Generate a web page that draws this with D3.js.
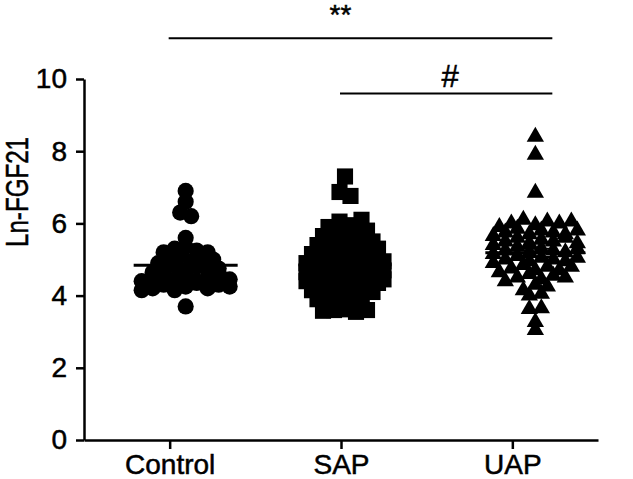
<!doctype html>
<html lang="en">
<head>
<meta charset="utf-8">
<title>Ln-FGF21 by group</title>
<script src="https://d3js.org/d3.v7.min.js"></script>
<style>
  body { margin: 0; background: #fff; }
  text { font-family: "Liberation Sans", Arial, Helvetica, sans-serif; fill: #000; stroke: #000; stroke-width: 0.5px; }
</style>
</head>
<body>
<svg id="chart" width="633" height="479"></svg>
<script>
// values
const groups = ["Control", "SAP", "UAP"];
const yTicks = [0, 2, 4, 6, 8, 10];

const controlValues = [6.9, 6.6, 6.3, 6.2, 5.6, 3.7,
  4.15, 4.2, 4.3, 4.15, 4.25, 4.35, 4.2, 4.3, 4.25,
  4.4, 4.5, 4.6, 4.45, 4.55, 4.4, 4.5, 4.6, 4.45,
  4.65, 4.75, 4.85, 4.7, 4.8, 4.7, 4.75,
  4.9, 5.0, 5.1, 4.95, 5.05, 5.0,
  5.2, 5.3, 5.35, 5.25, 5.2];

const sapValues = [7.3, 6.87, 6.76,
  3.58, 3.6, 3.62, 3.55, 3.6,
  3.7, 3.8, 3.75, 3.85,
  3.9, 4.05, 3.95, 4.1, 4.0, 4.1,
  4.15, 4.25, 4.35, 4.2, 4.3, 4.25, 4.35,
  4.4, 4.5, 4.6, 4.45, 4.55, 4.5, 4.6, 4.45,
  4.65, 4.75, 4.85, 4.7, 4.8, 4.75, 4.85, 4.7,
  4.9, 5.0, 5.1, 4.95, 5.05, 5.0, 5.1, 4.95,
  5.15, 5.25, 5.35, 5.2, 5.3, 5.2, 5.3,
  5.4, 5.5, 5.6, 5.45, 5.55, 5.5,
  5.65, 5.75, 5.85, 5.7, 5.8,
  5.9, 6.05, 5.95, 6.1];

const uapValues = [8.4, 7.9, 6.85,
  5.9, 6.0, 6.1, 5.95, 6.05, 6.0, 6.05,
  5.65, 5.75, 5.85, 5.7, 5.8, 5.75, 5.7, 5.8,
  5.4, 5.5, 5.6, 5.45, 5.55, 5.5, 5.6, 5.45,
  5.15, 5.25, 5.35, 5.2, 5.3, 5.25, 5.2, 5.3,
  4.9, 5.0, 5.1, 4.95, 5.05, 5.0, 4.95, 5.05,
  4.65, 4.75, 4.85, 4.7, 4.8, 4.7, 4.8,
  4.4, 4.5, 4.6, 4.45, 4.55, 4.5,
  4.15, 4.3, 4.25,
  4.0, 4.05,
  3.63, 3.65,
  3.27, 3.05];

const groupValues = [controlValues, sapValues, uapValues];

// significance bars, level in y units
const comparisons = [
  { from: "Control", to: "UAP", label: "**", level: 11.13 },
  { from: "SAP", to: "UAP", label: "#", level: 9.6 }
];

const svg = d3.select("#chart");

const x = d3.scalePoint().domain(groups).range([84, 598]).padding(0.5);
const y = d3.scaleLinear().domain([0, 10]).range([440, 79]);

// clusters sit a little right of the tick in the original
const clusterShift = [16, 4, 23];
const spacing = [11, 11, 12];
const rowHeight = 0.25;
const symbols = [d3.symbolCircle, d3.symbolSquare, d3.symbolTriangle];
const symbolSize = [205, 260, 130];

// column scatter: values in the same band sit side by side
function columnScatter(values, cx, s) {
  const rows = d3.group(values, v => Math.round(v / rowHeight));
  const pts = [];
  let widest = 1;
  rows.forEach(row => {
    const n = row.length;
    widest = Math.max(widest, n);
    row.forEach((v, j) => {
      pts.push({ v: v, x: cx + (j - (n - 1) / 2) * s, y: y(v) });
    });
  });
  return { pts: pts, half: (widest - 1) / 2 * s };
}

groups.forEach((g, i) => {
  const cx = x(g) + clusterShift[i];
  const layout = columnScatter(groupValues[i], cx, spacing[i]);

  svg.append("g")
    .selectAll("path")
    .data(layout.pts)
    .enter().append("path")
    .attr("transform", d => `translate(${d.x},${d.y})`)
    .attr("d", d3.symbol().type(symbols[i]).size(symbolSize[i]))
    .attr("fill", "#000");

  const vals = groupValues[i];
  const mean = d3.mean(vals);
  const sem = d3.deviation(vals) / Math.sqrt(vals.length);
  const half = layout.half + 8;

  // mean line and SEM bars
  svg.append("line")
    .attr("x1", cx - half).attr("x2", cx + half)
    .attr("y1", y(mean)).attr("y2", y(mean))
    .attr("stroke", "#000").attr("stroke-width", 3);
  svg.append("line")
    .attr("x1", cx).attr("x2", cx)
    .attr("y1", y(mean - sem)).attr("y2", y(mean + sem))
    .attr("stroke", "#000").attr("stroke-width", 2);
  [mean - sem, mean + sem].forEach(v => {
    svg.append("line")
      .attr("x1", cx - 20).attr("x2", cx + 20)
      .attr("y1", y(v)).attr("y2", y(v))
      .attr("stroke", "#000").attr("stroke-width", 2);
  });
});

// axes
const yAxis = svg.append("g")
  .attr("transform", "translate(84,0)")
  .call(d3.axisLeft(y).tickValues(yTicks).tickSize(8).tickSizeOuter(0).tickPadding(9));

const xAxis = svg.append("g")
  .attr("transform", "translate(0,440)")
  .call(d3.axisBottom(x).tickSize(9).tickSizeOuter(0).tickPadding(5));

[yAxis, xAxis].forEach(a => {
  a.selectAll("path, line").attr("stroke", "#000").attr("stroke-width", 2.5);
  a.selectAll("text").style("font-size", "28px").attr("fill", "#000");
});

svg.append("text")
  .attr("transform", "translate(28,192) rotate(-90)")
  .attr("text-anchor", "middle")
  .attr("textLength", 110)
  .attr("lengthAdjust", "spacingAndGlyphs")
  .style("font-size", "32px")
  .text("Ln-FGF21");

// significance
comparisons.forEach(c => {
  const x1 = x(c.from) - 1, x2 = x(c.to) + 40;
  svg.append("line")
    .attr("x1", x1).attr("x2", x2)
    .attr("y1", y(c.level)).attr("y2", y(c.level))
    .attr("stroke", "#000").attr("stroke-width", 2);
  svg.append("text")
    .attr("x", (x1 + x2) / 2 + (c.label === "#" ? 4 : -20))
    .attr("y", y(c.level) - (c.label === "#" ? 6 : 14))
    .attr("text-anchor", "middle")
    .style("font-size", c.label === "#" ? "31px" : "28px")
    .text(c.label);
});
</script>
</body>
</html>
